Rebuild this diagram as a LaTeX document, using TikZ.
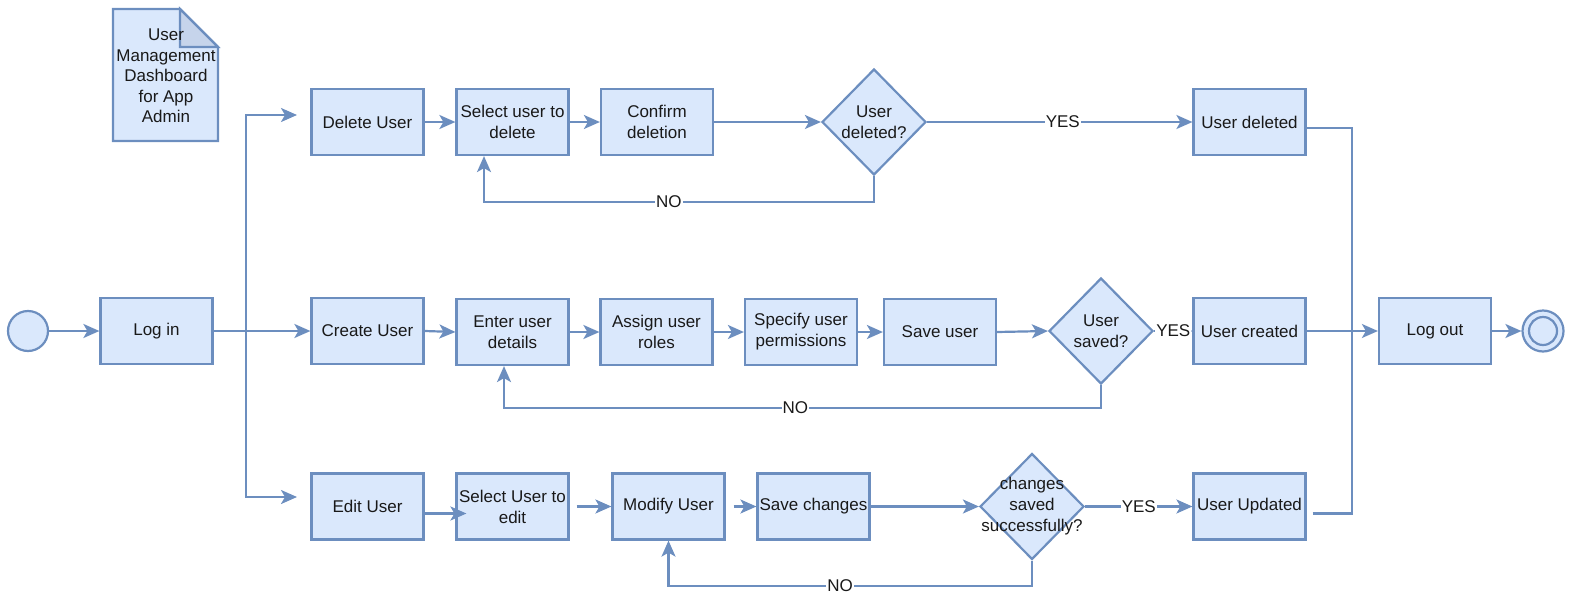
\documentclass[tikz,border=0pt]{standalone}
\usepackage{fontspec}
\setmainfont{Liberation Sans}
\usetikzlibrary{arrows.meta,shapes.geometric,calc}
\definecolor{boxfill}{HTML}{DAE8FC}
\definecolor{boxline}{HTML}{6C8EBF}
\definecolor{foldfill}{HTML}{C6D4EB}
\begin{document}
\begin{tikzpicture}[x=1pt,y=-1pt,
  txt/.style={font=\fontsize{17}{21}\selectfont, text=black!90},
  stepbox/.style={txt, rectangle, draw=boxline, fill=boxfill, line width=2.2pt,
    minimum width=112pt, minimum height=66pt, inner sep=0pt, align=center},
  decision/.style={diamond, draw=boxline, fill=boxfill, line width=2.2pt,
    minimum width=104pt, minimum height=106pt, inner sep=0pt},
  dtext/.style={txt, align=center, inner sep=0pt},
  startnode/.style={circle, draw=boxline, fill=boxfill, line width=2.2pt,
    minimum size=40pt, inner sep=0pt},
  lbl/.style={txt, fill=white, inner sep=1pt},
  line/.style={draw=boxline, line width=2.2pt},
  arrow/.style={line, -{Stealth[length=16pt,width=14pt,inset=4pt]}}]

\useasboundingbox (0,0) rectangle (1573,597);

% document note with folded corner
\filldraw[line, fill=boxfill, line join=miter]
  (113,9) -- (180,9) -- (218,47) -- (218,141) -- (113,141) -- cycle;
\filldraw[line, fill=foldfill, line join=miter] (180,9) -- (180,47) -- (218,47) -- cycle;
\node[txt, align=center, inner sep=0pt, font=\fontsize{17}{20.5}\selectfont] (doc) at (166,76)
  {User\\Management\\Dashboard\\for App\\Admin};

% start and login
\node[startnode] (start) at (28,331) {};
\node[stepbox] (login) at (156.5,331) {Log in};

% delete branch
\node[stepbox] (delete) at (367.5,122) {Delete User};
\node[stepbox] (seldel) at (512.5,122) {Select user to\\delete};
\node[stepbox] (confirm) at (657,122) {Confirm\\deletion};
\node[decision] (d1) at (874,122) {};
\node[dtext] (d1t) at (d1) {User\\deleted?};
\node[stepbox] (udel) at (1249.5,122) {User deleted};

% create branch
\node[stepbox] (create) at (367.5,331) {Create User};
\node[stepbox] (enter) at (512.5,332) {Enter user\\details};
\node[stepbox] (assign) at (656.5,332) {Assign user\\roles};
\node[stepbox] (specify) at (801,332) {Specify user\\permissions};
\node[stepbox] (saveu) at (940,332) {Save user};
\node[decision] (d2) at (1101,331) {};
\node[dtext] (d2t) at (d2) {User\\saved?};
\node[stepbox] (ucreated) at (1249.5,331) {User created};
\node[stepbox] (logout) at (1435,331) {Log out};
\node[startnode, minimum size=41pt] (end) at (1543,331) {};
\node[circle, draw=boxline, line width=2.2pt, minimum size=28pt, inner sep=0pt] (endin) at (end) {};

% edit branch
\node[stepbox] (edit) at (367.5,506.5) {Edit User};
\node[stepbox] (seledit) at (512.5,506.5) {Select User to\\edit};
\node[stepbox] (modify) at (668.5,506.5) {Modify User};
\node[stepbox] (savech) at (813.5,506.5) {Save changes};
\node[decision] (d3) at (1032,506.5) {};
\node[dtext] (d3t) at (d3) {changes\\saved\\successfully?};
\node[stepbox] (uupd) at (1249.5,506.5) {User Updated};

% split after login
\coordinate (split) at (246,331);
\coordinate (delIn) at (297,115);
\coordinate (editIn) at (297,497);
\draw[arrow] (start.east) -- (login.west);
\draw[line] (login.east) -- (split);
\draw[arrow] (split) |- (delIn);
\draw[arrow] (split) |- (editIn);
\draw[arrow] (split) -- (create.west);

% delete flow
\draw[arrow] (delete.east) -- (seldel.west);
\draw[arrow] (seldel.east) -- (confirm.west);
\draw[arrow] (confirm.east) -- (d1.west);
\draw[arrow] (d1.east) -- node[lbl, xshift=3pt]{YES} (udel.west);
\draw[arrow] (d1.south) -- ++(0,26) -| ([xshift=-28.5pt]seldel.south) node[lbl,pos=0.263]{NO};

% create flow
\draw[arrow] (create.east) -- (enter.west);
\draw[arrow] (enter.east) -- (assign.west);
\draw[arrow] (assign.east) -- (specify.west);
\draw[arrow] (specify.east) -- (saveu.west);
\draw[arrow] (saveu.east) -- (d2.west);
\draw[arrow] (d2.east) -- node[lbl]{YES} (ucreated.west);
\draw[arrow] (d2.south) -- ++(0,22.5) -| ([xshift=-8.5pt]enter.south) node[lbl,pos=0.256]{NO};

% edit flow
\draw[arrow] ([yshift=-7pt]edit.east) -- ([xshift=11pt,yshift=-7pt]seledit.west);
\draw[arrow] ([xshift=7pt]seledit.east) -- (modify.west);
\draw[arrow] ([xshift=8pt]modify.east) -- (savech.west);
\draw[arrow] (savech.east) -- (d3.west);
\draw[arrow] (d3.east) -- node[lbl]{YES} (uupd.west);
\draw[arrow] (d3.south) -- ++(0,25) -| (modify.south) node[lbl,pos=0.264]{NO};

% merge into log out
\coordinate (merge) at (1352,331);
\draw[line] ([yshift=-6pt]udel.east) -| (merge);
\draw[line] ([xshift=6pt,yshift=-7pt]uupd.east) -| (merge);
\draw[arrow] (ucreated.east) -- (logout.west);
\draw[arrow] (logout.east) -- (end.west);

\end{tikzpicture}
\end{document}
